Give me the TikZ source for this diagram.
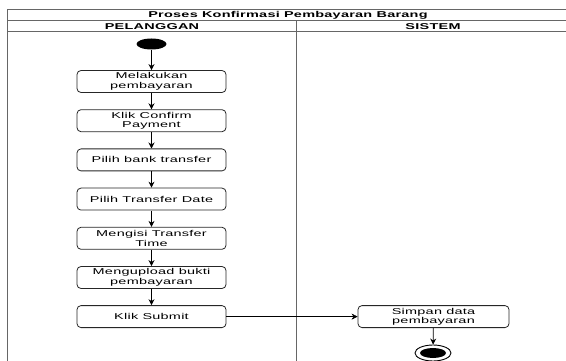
\documentclass[tikz,border=0pt]{standalone}
\usepackage{fontspec}
\setmainfont{Liberation Sans}[FakeStretch=1.7,LetterSpace=3]
\usepackage{tikz}
\usetikzlibrary{arrows.meta,shapes.geometric}

\begin{document}
\begin{tikzpicture}[x=1pt, y=-1pt, >={Stealth[length=6pt,width=6pt]},
    aksi/.style={draw=black!85, line width=0.8pt, rounded corners=4pt, minimum width=149pt, minimum height=22pt,
        inner sep=0pt, align=center, font=\fontsize{8.5}{9.5}\selectfont},
    judul/.style={font=\fontsize{8.5}{9.5}\selectfont\bfseries},
    garis/.style={draw=black!60, line width=0.8pt}]
        \useasboundingbox (0,0) rectangle (566,361);

        % Draw swimlane frame
        \draw[garis] (7,361) -- (7,9.3) -- (566,9.3) -- (566,361);
        \draw[garis] (7,20.7) -- (566,20.7);
        \draw[garis] (7,31.7) -- (566,31.7);
        \draw[garis] (296,20.7) -- (296,361);

        % Draw titles
        \node[judul] (judul) at (288,15) {Proses Konfirmasi Pembayaran Barang};
        \node[judul] (pelanggan) at (152,26.2) {PELANGGAN};
        \node[judul] (sistem) at (433,26.2) {SISTEM};

        % Draw start node
        \node[ellipse, fill=black, minimum width=30pt, minimum height=11pt, inner sep=0pt] (mulai) at (151.5,44) {};

        % Draw customer actions
        \node[aksi] (bayar) at (151.5,81.5) {Melakukan\\pembayaran};
        \node[aksi] (konfirmasi) at (151.5,120.7) {Klik Confirm\\Payment};
        \node[aksi] (bank) at (151.5,159.9) {Pilih bank transfer};
        \node[aksi] (tanggal) at (151.5,199.1) {Pilih Transfer Date};
        \node[aksi] (waktu) at (151.5,238.3) {Mengisi Transfer\\Time};
        \node[aksi] (upload) at (151.5,277.5) {Mengupload bukti\\pembayaran};
        \node[aksi] (submit) at (151.5,316.6) {Klik Submit};

        % Draw system action and end node
        \node[aksi, minimum width=151pt] (simpan) at (433.5,316.6) {Simpan data\\pembayaran};
        \node[ellipse, draw=black, line width=0.9pt, minimum width=36pt, minimum height=16pt, inner sep=0pt] (akhir) at (433,353) {};
        \node[ellipse, fill=black, minimum width=26pt, minimum height=10pt, inner sep=0pt] (akhirdalam) at (433,353) {};

        % Draw flow
        \draw[->, thick] (mulai) -- (bayar);
        \draw[->, thick] (bayar) -- (konfirmasi);
        \draw[->, thick] (konfirmasi) -- (bank);
        \draw[->, thick] (bank) -- (tanggal);
        \draw[->, thick] (tanggal) -- (waktu);
        \draw[->, thick] (waktu) -- (upload);
        \draw[->, thick] (upload) -- (submit);
        \draw[->] (submit) -- (simpan);
        \draw[->, thick] (simpan) -- (akhir);
    \end{tikzpicture}
\end{document}
